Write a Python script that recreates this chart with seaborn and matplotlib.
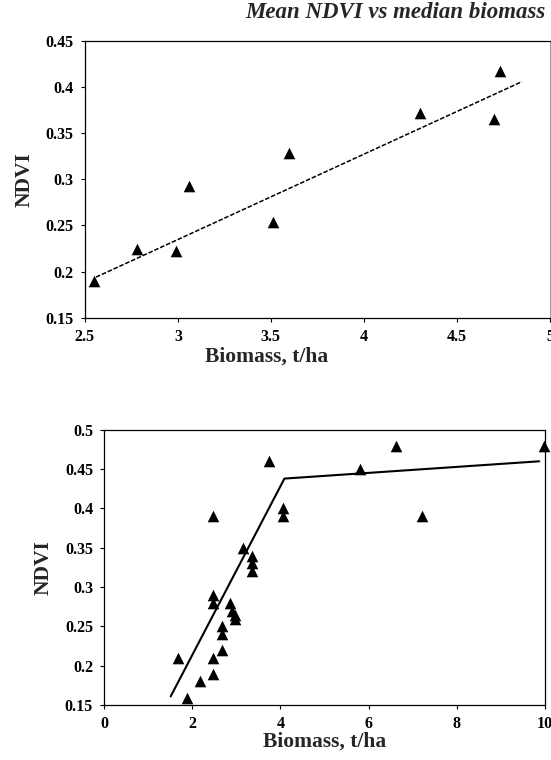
import numpy as np
import pandas as pd
import matplotlib
matplotlib.use('Agg')
import matplotlib.pyplot as plt
import seaborn as sns

# Top panel: mean NDVI vs median biomass
top_biomass = [2.55, 2.78, 2.99, 3.06, 3.51, 3.60, 4.30, 4.70, 4.73]
top_ndvi = [0.190, 0.224, 0.222, 0.293, 0.254, 0.329, 0.372, 0.365, 0.417]
top_fit_x = [2.56, 4.85]
top_fit_y = [0.194, 0.406]

# Bottom panel: all samples with broken-line fit
bot_biomass = [1.67, 1.87, 2.17, 2.46, 2.46, 2.46, 2.46, 2.46, 2.68, 2.68, 2.68,
               2.86, 2.90, 2.98, 2.96, 3.16, 3.36, 3.36, 3.36, 3.75, 4.05, 4.05,
               5.81, 6.63, 7.22, 9.98]
bot_ndvi = [0.21, 0.159, 0.18, 0.19, 0.21, 0.39, 0.29, 0.28, 0.22, 0.24, 0.25,
            0.28, 0.27, 0.265, 0.26, 0.35, 0.34, 0.33, 0.32, 0.46, 0.40, 0.39,
            0.45, 0.48, 0.39, 0.48]
bot_fit_x = [1.51, 4.09, 9.87]
bot_fit_y = [0.161, 0.438, 0.46]

top_xticks = [2.5, 3, 3.5, 4, 4.5, 5]
top_yticks = [0.15, 0.2, 0.25, 0.3, 0.35, 0.4, 0.45]
bot_xticks = [0, 2, 4, 6, 8, 10]
bot_yticks = [0.15, 0.2, 0.25, 0.3, 0.35, 0.4, 0.45, 0.5]

sns.set_theme(style='ticks')
plt.rcParams['font.family'] = ['Liberation Serif', 'DejaVu Serif']

fig = plt.figure(figsize=(5.51, 7.60), dpi=100)
ax1 = fig.add_axes([0.154, 0.582, 0.844, 0.364])
ax2 = fig.add_axes([0.189, 0.0724, 0.800, 0.362])

top_df = pd.DataFrame({'biomass': top_biomass, 'ndvi': top_ndvi})
bot_df = pd.DataFrame({'biomass': bot_biomass, 'ndvi': bot_ndvi})

sns.lineplot(x=top_fit_x, y=top_fit_y, ax=ax1, color='black', lw=1.1,
             linestyle=(0, (3, 1.2)))
sns.scatterplot(data=top_df, x='biomass', y='ndvi', ax=ax1, marker='^',
                color='black', s=70, edgecolor='black', linewidth=0, zorder=3)

sns.lineplot(x=bot_fit_x, y=bot_fit_y, ax=ax2, color='black', lw=1.5)
sns.scatterplot(data=bot_df, x='biomass', y='ndvi', ax=ax2, marker='^',
                color='black', s=70, edgecolor='black', linewidth=0, zorder=3,
                clip_on=False)

label_font = dict(fontsize=15.5, fontweight='bold')
for ax, xt, yt in [(ax1, top_xticks, top_yticks), (ax2, bot_xticks, bot_yticks)]:
    ax.set_xlim(xt[0], xt[-1])
    ax.set_ylim(yt[0], yt[-1])
    ax.set_xticks(xt)
    ax.set_yticks(yt)
    ax.set_xticklabels([f'{v:g}' for v in xt], fontsize=11.5, fontweight='bold')
    ax.set_yticklabels([f'{v:g}' for v in yt], fontsize=11.5, fontweight='bold')
    ax.tick_params(direction='out', length=3, width=0.8, pad=5, colors='black')
    for sp in ax.spines.values():
        sp.set_visible(True)
        sp.set_linewidth(0.9)
        sp.set_color('black')
    ax.set_xlabel('Biomass, t/ha', labelpad=0, **label_font)
    ax.set_ylabel('NDVI', labelpad=8, **label_font)

# top x label sits left of centre in the reference
ax1.xaxis.set_label_coords(0.39, -0.105)

ax1.spines['right'].set_color('#888888')
ax1.spines['right'].set_linewidth(0.6)

fig.text(0.99, 0.984, 'Mean NDVI vs median biomass', ha='right', va='center',
         fontsize=16.5, fontweight='bold', fontstyle='italic')

fig.savefig('out.png', dpi=100)
